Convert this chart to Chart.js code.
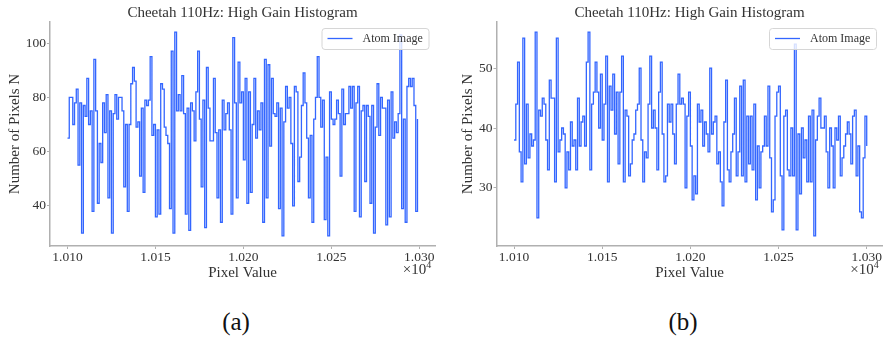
<!DOCTYPE html>
<html>
<head>
<meta charset="utf-8">
<script src="https://cdn.jsdelivr.net/npm/chart.js@4.4.0/dist/chart.umd.min.js"></script>
<style>
  body { margin: 0; background: #fff; width: 884px; height: 340px; position: relative; overflow: hidden; font-family: "Liberation Serif", serif; }
  .panel { position: absolute; top: 0; width: 442px; height: 300px; }
  #panelA { left: 0; }
  #panelB { left: 442px; }
  .cap { position: absolute; top: 308px; width: 80px; text-align: center; font-size: 25px; color: #111; }
</style>
</head>
<body>
<div class="panel" id="panelA"><canvas id="chartA" width="442" height="300"></canvas></div>
<div class="panel" id="panelB"><canvas id="chartB" width="442" height="300"></canvas></div>
<div class="cap" style="left:196px">(a)</div>
<div class="cap" style="left:643px">(b)</div>

<script>
// données (un compte par bin de largeur 1)
const binStart = 10100;
const xTicks = [10100, 10150, 10200, 10250, 10300];

const countsA = [
  65, 80, 80, 70, 78, 83, 55, 78, 30, 77, 73, 87, 70, 75, 38, 94, 75, 41, 63, 56,
  78, 67, 81, 43, 75, 30, 74, 81, 72, 80, 80, 75, 47, 70, 38, 70, 85, 91, 86, 69,
  71, 51, 76, 45, 79, 77, 79, 95, 66, 70, 36, 68, 37, 85, 83, 69, 66, 63, 39, 97,
  30, 104, 75, 81, 75, 88, 74, 37, 76, 31, 78, 75, 64, 82, 97, 72, 47, 79, 32, 91,
  76, 64, 64, 87, 67, 43, 68, 34, 79, 68, 74, 78, 68, 37, 102, 78, 43, 93, 78, 82,
  57, 87, 41, 82, 45, 70, 87, 65, 75, 68, 78, 34, 94, 43, 92, 62, 87, 74, 73, 78,
  39, 76, 29, 71, 84, 76, 80, 63, 40, 84, 82, 49, 58, 77, 89, 78, 65, 43, 66, 34,
  72, 80, 95, 80, 69, 79, 35, 58, 29, 82, 72, 70, 72, 79, 74, 51, 83, 70, 74, 74,
  84, 76, 84, 38, 78, 84, 36, 75, 77, 49, 77, 73, 41, 77, 30, 69, 85, 66, 80, 76,
  76, 33, 79, 36, 82, 65, 71, 67, 74, 103, 39, 72, 34, 84, 87, 84, 87, 77, 38, 72
];
const yTicksA = [40, 60, 80, 100];

const countsB = [
  38, 44, 51, 36, 31, 55, 34, 44, 35, 39, 37, 38, 56, 25, 43, 42, 45, 44, 38, 33,
  48, 45, 45, 31, 55, 36, 38, 40, 39, 30, 36, 33, 41, 37, 38, 33, 45, 37, 41, 42,
  37, 51, 56, 33, 44, 46, 51, 46, 40, 49, 38, 44, 52, 31, 47, 43, 49, 39, 46, 34,
  46, 52, 31, 43, 42, 32, 34, 38, 39, 43, 44, 50, 38, 31, 36, 35, 44, 52, 40, 43,
  40, 33, 46, 51, 39, 31, 32, 44, 41, 44, 39, 34, 44, 49, 44, 45, 44, 30, 42, 46,
  37, 28, 32, 29, 44, 41, 43, 37, 41, 39, 36, 50, 39, 41, 42, 34, 36, 31, 27, 41,
  48, 33, 31, 36, 39, 45, 32, 36, 47, 32, 48, 31, 42, 34, 42, 33, 44, 28, 37, 30,
  36, 37, 42, 37, 47, 35, 26, 28, 42, 46, 47, 32, 23, 42, 43, 33, 32, 40, 32, 54,
  23, 39, 29, 40, 35, 38, 31, 42, 31, 43, 22, 38, 42, 45, 40, 40, 42, 36, 30, 40,
  37, 30, 40, 38, 42, 32, 35, 37, 39, 41, 39, 34, 42, 43, 32, 37, 26, 25, 35, 42, 37
];
const yTicksB = [30, 40, 50];

const lineColor = '#3366ff';
const textColor = '#333333';
const spineColor = '#b0b0b0';
const fontFamily = '"Liberation Serif", serif';

// titre, légende et facteur x10^4 dessinés à la main (position façon matplotlib)
const decorPlugin = {
  id: 'decor',
  afterDraw(chart) {
    const ctx = chart.ctx;
    const area = chart.chartArea;
    const opts = chart.options.plugins.decor;
    ctx.save();
    ctx.fillStyle = textColor;

    // titre
    ctx.font = '15px ' + fontFamily;
    ctx.textAlign = 'center';
    ctx.textBaseline = 'middle';
    ctx.fillText(opts.title, (area.left + area.right) / 2, 13);

    // légende
    const boxR = area.right - 6.5;
    const boxL = boxR - 107;
    const boxT = 28, boxB = 49;
    ctx.beginPath();
    ctx.roundRect(boxL + 0.5, boxT + 0.5, boxR - boxL, boxB - boxT, 3);
    ctx.fillStyle = 'rgba(255,255,255,0.8)';
    ctx.fill();
    ctx.strokeStyle = '#d6d6d6';
    ctx.lineWidth = 1;
    ctx.stroke();
    ctx.beginPath();
    ctx.moveTo(boxL + 6, 38.5);
    ctx.lineTo(boxL + 31, 38.5);
    ctx.strokeStyle = lineColor;
    ctx.lineWidth = 1.3;
    ctx.stroke();
    ctx.fillStyle = textColor;
    ctx.font = '12px ' + fontFamily;
    ctx.textAlign = 'left';
    ctx.fillText(opts.label, boxL + 41, 38.5);

    // facteur d'échelle, aligné sur le dernier tick
    const xr = chart.scales.x.getPixelForValue(xTicks[xTicks.length - 1]) + 12;
    ctx.font = '10px ' + fontFamily;
    ctx.textAlign = 'right';
    ctx.fillText('4', xr, 265.5);
    const w4 = ctx.measureText('4').width;
    ctx.font = '15px ' + fontFamily;
    ctx.fillText('\u00d710', xr - w4, 270.5);
    ctx.restore();
  }
};

function makeChart(canvasId, counts, yMin, yMax, yTicks, opts) {
  const points = counts.map((v, i) => ({ x: binStart + i, y: v }));
  const ctx = document.getElementById(canvasId).getContext('2d');
  return new Chart(ctx, {
    type: 'line',
    data: {
      datasets: [{
        label: 'Atom Image',
        data: points,
        stepped: 'before',
        borderColor: lineColor,
        borderWidth: 1.3,
        pointRadius: 0,
        fill: false
      }]
    },
    options: {
      responsive: false,
      animation: false,
      layout: { padding: { top: 22, right: opts.padRight, left: 0, bottom: 0 } },
      plugins: {
        legend: { display: false },
        tooltip: { enabled: false },
        decor: { title: 'Cheetah 110Hz: High Gain Histogram', label: 'Atom Image' }
      },
      scales: {
        x: {
          type: 'linear',
          min: 10090.05,
          max: 10308.95,
          afterBuildTicks: (scale) => { scale.ticks = xTicks.map(v => ({ value: v })); },
          afterFit: (scale) => { scale.height = 54; },
          ticks: {
            color: textColor,
            font: { family: fontFamily, size: 13.5 },
            padding: 0,
            maxRotation: 0,
            callback: (v) => (v / 1e4).toFixed(3)
          },
          grid: { display: true, drawOnChartArea: false, tickLength: 3, color: spineColor, tickWidth: 1 },
          border: { display: true, color: spineColor, width: 1.5 },
          title: { display: true, text: 'Pixel Value', color: textColor, font: { family: fontFamily, size: 15 }, padding: { top: 0, bottom: 18 } }
        },
        y: {
          min: yMin,
          max: yMax,
          afterBuildTicks: (scale) => { scale.ticks = yTicks.map(v => ({ value: v })); },
          afterFit: (scale) => { scale.width = opts.yWidth; },
          ticks: {
            color: textColor,
            font: { family: fontFamily, size: 13.5 },
            padding: 1
          },
          grid: { display: true, drawOnChartArea: false, tickLength: 3, color: spineColor, tickWidth: 1 },
          border: { display: true, color: spineColor, width: 1.5 },
          title: { display: true, text: 'Number of Pixels N', color: textColor, font: { family: fontFamily, size: 15 }, padding: { top: opts.yTitlePad, bottom: 0 } }
        }
      }
    },
    plugins: [decorPlugin]
  });
}

makeChart('chartA', countsA, 25.25, 107.75, yTicksA, { yWidth: 50, yTitlePad: 6, padRight: 7 });
makeChart('chartB', countsB, 20.3, 57.7, yTicksB, { yWidth: 54.5, yTitlePad: 17, padRight: 1.5 });
</script>
</body>
</html>
